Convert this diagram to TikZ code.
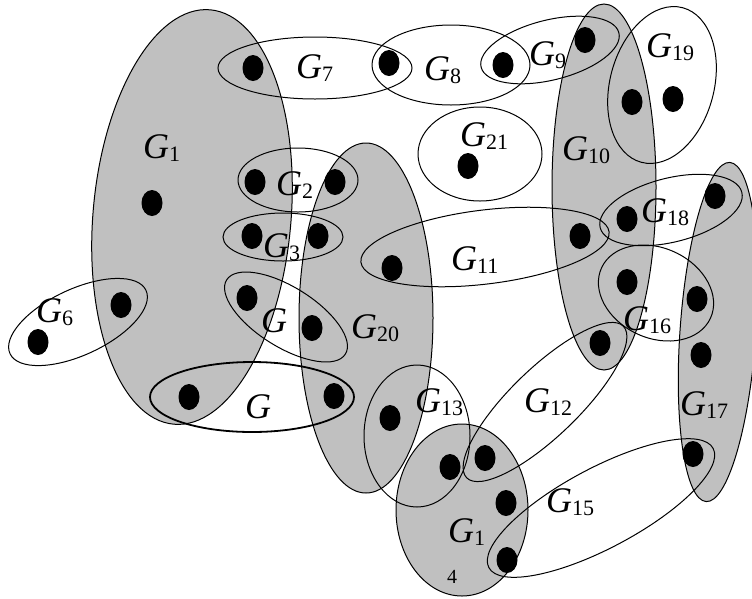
\documentclass[tikz,border=0pt]{standalone}
\usepackage{fontspec}
\setmainfont{Liberation Serif}
\usetikzlibrary{shapes.geometric}
\definecolor{EdgeGray}{HTML}{C0C0C0}
\newcommand{\gname}[1]{\textit{G}\raisebox{-3.5pt}{\fontsize{22}{22}\selectfont #1}}
\tikzset{
  hedge/.style={ellipse, draw=black, line width=1pt, inner sep=0pt},
  shaded/.style={hedge, fill=EdgeGray},
  vtx/.style={ellipse, fill=black, inner sep=0pt, minimum width=21pt, minimum height=26pt},
  glabel/.style={anchor=base west, inner sep=0pt, font=\fontsize{36}{36}\selectfont},
}

\begin{document}
\begin{tikzpicture}[x=1pt, y=-1pt]
\useasboundingbox (0,0) rectangle (752,598);

% shaded hyperedges
\node[shaded, minimum width=198pt, minimum height=416pt, rotate=-5] (e1) at (192,217) {};
\node[shaded, minimum width=134pt, minimum height=350pt] (e20) at (366,318) {};
\node[shaded, minimum width=104pt, minimum height=366pt] (e10) at (604,187) {};
\node[shaded, minimum width=76pt, minimum height=340pt, rotate=-4] (e17) at (718,332) {};
\node[shaded, minimum width=132pt, minimum height=172pt] (e14) at (462,510) {};

% open hyperedges
\node[hedge, minimum width=194pt, minimum height=62pt] (e7) at (315,68) {};
\node[hedge, minimum width=158pt, minimum height=80pt] (e8) at (451,65) {};
\node[hedge, minimum width=142pt, minimum height=60pt, rotate=14] (e9) at (550,50) {};
\node[hedge, minimum width=104pt, minimum height=160pt, rotate=-15] (e19) at (662,85) {};
\node[hedge, minimum width=124pt, minimum height=94pt] (e21) at (480,154) {};
\node[hedge, minimum width=120pt, minimum height=64pt] (e2) at (298,180) {};
\node[hedge, minimum width=120pt, minimum height=48pt] (e3) at (283,237) {};
\node[hedge, minimum width=250pt, minimum height=74pt, rotate=7] (e11) at (485,247) {};
\node[hedge, minimum width=146pt, minimum height=64pt, rotate=14] (e18) at (671,210) {};
\node[hedge, minimum width=150pt, minimum height=66pt, rotate=25] (e6) at (78,322) {};
\node[hedge, minimum width=140pt, minimum height=60pt, rotate=-32] (e4) at (286,317) {};
\node[hedge, minimum width=120pt, minimum height=90pt, rotate=-25] (e16) at (656,293) {};
\node[hedge, line width=1.8pt, minimum width=204pt, minimum height=70pt] (e5) at (252,397) {};
\node[hedge, minimum width=106pt, minimum height=142pt] (e13) at (417,436) {};
\node[hedge, minimum width=218pt, minimum height=68pt, rotate=44] (e12) at (545,402) {};
\node[hedge, minimum width=254pt, minimum height=80pt, rotate=28] (e15) at (601,508) {};

% vertices
\foreach \n/\p in {1/{253,68}, 2/{389,63}, 3/{503,65}, 4/{585,40}, 5/{632,102},
    6/{673,99}, 7/{468,166}, 8/{152,203}, 9/{255,182}, 10/{335,182},
    11/{252,236}, 12/{318,236}, 13/{392,268}, 14/{580,236}, 15/{627,219},
    16/{715,196}, 17/{38,342}, 18/{121,305}, 19/{247,298}, 20/{312,328},
    21/{627,282}, 22/{697,299}, 23/{701,355}, 24/{600,343}, 25/{189,397},
    26/{334,396}, 27/{390,418}, 28/{450,467}, 29/{485,458}, 30/{506,503},
    31/{507,560}, 32/{693,454}}
  \node[vtx] (v\n) at (\p) {};

% labels
\node[glabel] (l1) at (143,158) {\gname{1}};
\node[glabel] (l2) at (276,195) {\gname{2}};
\node[glabel] (l3) at (263,257) {\gname{3}};
\node[glabel] (l4) at (261,332) {\textit{G}};
\node[glabel] (l5) at (245,418) {\textit{G}};
\node[glabel] (l6) at (36,322) {\gname{6}};
\node[glabel] (l7) at (296,78) {\gname{7}};
\node[glabel] (l8) at (424,80) {\gname{8}};
\node[glabel] (l9) at (529,65) {\gname{9}};
\node[glabel] (l10) at (562,160) {\gname{10}};
\node[glabel] (l11) at (451,270) {\gname{11}};
\node[glabel] (l12) at (524,412) {\gname{12}};
\node[glabel] (l13) at (415,412) {\gname{13}};
\node[glabel] (l14) at (448,542) {\gname{1}};
\node[glabel, font=\fontsize{20}{20}\selectfont] (l14b) at (447,583) {4};
\node[glabel] (l15) at (546,512) {\gname{15}};
\node[glabel] (l16) at (623,330) {\gname{16}};
\node[glabel] (l17) at (680,415) {\gname{17}};
\node[glabel] (l18) at (641,222) {\gname{18}};
\node[glabel] (l19) at (646,57) {\gname{19}};
\node[glabel] (l20) at (351,338) {\gname{20}};
\node[glabel] (l21) at (460,146) {\gname{21}};
\end{tikzpicture}
\end{document}
